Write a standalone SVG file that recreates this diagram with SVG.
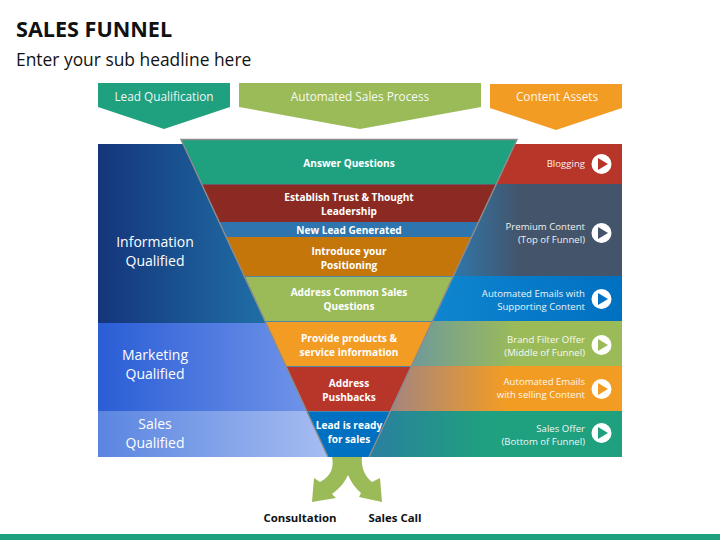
<svg xmlns="http://www.w3.org/2000/svg" width="720" height="540" viewBox="0 0 720 540">
<style>
text{font-family:"Open Sans","Noto Sans","Liberation Sans",sans-serif}
.h{font-size:11.8px;fill:#fff;text-anchor:middle;opacity:.92}
.b{font-size:10.1px;font-weight:700;fill:#fff;text-anchor:middle}
.q{font-size:14px;fill:#fff;text-anchor:middle}
.r{font-size:9.6px;fill:#fff;text-anchor:end;opacity:.92}
.k{font-size:11.4px;font-weight:700;fill:#111;text-anchor:middle}
.e{fill:none;stroke:#8c8c8c;stroke-width:1.4}
.c{fill:#fff}
</style>
<defs>
<linearGradient id="gi" x1="0" x2="1" y1="0" y2="0"><stop offset="0" stop-color="#15357b"/><stop offset="1" stop-color="#1f6fa6"/></linearGradient>
<linearGradient id="gm" x1="0" x2="1" y1="0" y2="0"><stop offset="0" stop-color="#2a5dd6"/><stop offset="1" stop-color="#6f93e8"/></linearGradient>
<linearGradient id="gs" x1="0" x2="1" y1="0" y2="0"><stop offset="0" stop-color="#5a85e0"/><stop offset="1" stop-color="#a6bdf1"/></linearGradient>
<linearGradient id="gp" x1="0" x2="1" y1="0" y2="0"><stop offset="0" stop-color="#2f77aa"/><stop offset=".4" stop-color="#44546a"/><stop offset="1" stop-color="#44546a"/></linearGradient>
<linearGradient id="ga" x1="0" x2="1" y1="0" y2="0"><stop offset="0" stop-color="#0f85cf"/><stop offset="1" stop-color="#0070c0"/></linearGradient>
<linearGradient id="gg" x1="0" x2="1" y1="0" y2="0"><stop offset="0" stop-color="#6f9a9a"/><stop offset=".5" stop-color="#9bbb59"/><stop offset="1" stop-color="#9bbb59"/></linearGradient>
<linearGradient id="go" x1="0" x2="1" y1="0" y2="0"><stop offset="0" stop-color="#a3857f"/><stop offset=".5" stop-color="#f39c24"/><stop offset="1" stop-color="#f39c24"/></linearGradient>
<linearGradient id="gt" x1="0" x2="1" y1="0" y2="0"><stop offset="0" stop-color="#2b7f9f"/><stop offset=".45" stop-color="#1fa07f"/><stop offset="1" stop-color="#1fa07f"/></linearGradient>
</defs>
<rect width="720" height="540" fill="#fff"/>
<g id="title">
<text x="16" y="37" style="font-size:21.6px;font-weight:700;fill:#111">SALES FUNNEL</text>
<text x="16" y="66" style="font-size:17.4px;fill:#111">Enter your sub headline here</text>
</g>
<rect id="bottom-bar" x="0" y="534" width="720" height="6" fill="#1fa07f"/>
<g id="header-lead"><polygon points="98,83 230,83 230,107 164,129 98,107" fill="#1fa07f"/><text class="h" x="164" y="101">Lead Qualification</text></g>
<g id="header-process"><polygon points="239,83 481,83 481,107 360,129 239,107" fill="#9bbb59"/><text class="h" x="360" y="101">Automated Sales Process</text></g>
<g id="header-content"><polygon points="490,84 622,84 622,108 556,130 490,108" fill="#f39c24"/><text class="h" x="557" y="101">Content Assets</text></g>
<g id="panel-information"><polygon points="98,144 183.5,144 266,323 98,323" fill="url(#gi)"/><text class="q"><tspan x="155" y="247">Information</tspan><tspan x="155" y="266">Qualified</tspan></text></g>
<g id="panel-marketing"><polygon points="98,323 266,323 306.7,411 98,411" fill="url(#gm)"/><text class="q"><tspan x="155" y="360">Marketing</tspan><tspan x="155" y="379">Qualified</tspan></text></g>
<g id="panel-sales"><polygon points="98,411 306.7,411 328,457 98,457" fill="url(#gs)"/><text class="q"><tspan x="155" y="429">Sales</tspan><tspan x="155" y="448">Qualified</tspan></text></g>
<g id="asset-blogging"><polygon points="514.7,144 622,144 622,184 496.3,184" fill="#b8352a"/><text class="r" x="585" y="167">Blogging</text><circle class="c" cx="601.5" cy="164" r="10"/><polygon points="598,158 608,164 598,170" fill="#b8352a"/></g>
<g id="asset-premium"><polygon points="496.3,184 622,184 622,276 453.4,276" fill="url(#gp)"/><text class="r"><tspan x="585" y="230">Premium Content</tspan><tspan x="585" y="243">(Top of Funnel)</tspan></text><circle class="c" cx="601.5" cy="233" r="10"/><polygon points="598,227 608,233 598,239" fill="#44546a"/></g>
<g id="asset-emails"><polygon points="453.4,276 622,276 622,321 432.4,321" fill="url(#ga)"/><text class="r"><tspan x="585" y="297">Automated Emails with</tspan><tspan x="585" y="310">Supporting Content</tspan></text><circle class="c" cx="601.5" cy="299" r="10"/><polygon points="598,293 608,299 598,305" fill="#0070c0"/></g>
<g id="asset-brand"><polygon points="432.4,321 622,321 622,366 411.4,366" fill="url(#gg)"/><text class="r"><tspan x="585" y="343">Brand Filter Offer</tspan><tspan x="585" y="356">(Middle of Funnel)</tspan></text><circle class="c" cx="601.5" cy="345" r="10"/><polygon points="598,339 608,345 598,351" fill="#9bbb59"/></g>
<g id="asset-selling"><polygon points="411.4,366 622,366 622,411 390.4,411" fill="url(#go)"/><text class="r"><tspan x="585" y="385">Automated Emails</tspan><tspan x="585" y="398">with selling Content</tspan></text><circle class="c" cx="601.5" cy="389" r="10"/><polygon points="598,383 608,389 598,395" fill="#f39c24"/></g>
<g id="asset-offer"><polygon points="390.4,411 622,411 622,457 369,457" fill="url(#gt)"/><text class="r"><tspan x="585" y="432">Sales Offer</tspan><tspan x="585" y="445">(Bottom of Funnel)</tspan></text><circle class="c" cx="601.5" cy="433" r="10"/><polygon points="598,427 608,433 598,439" fill="#1fa07f"/></g>
<g id="connectors">
<path d="M332,457 C334,466 332,476 320,482 L314,478 L312,502 L336,498 L332,494 C340,488 345,482 348,475 C351,482 355,488 361,493 L359,497 L382,502 L380,478 L372,482 C364,476 361,466 362,457 Z" fill="#9bbb59"/>
</g>
<polygon id="funnel-back" points="181,139.5 517,139.5 369,457 328,457" fill="#4f86ad"/>
<g id="funnel-answer"><polygon points="181,139.5 517,139.5 496.3,184 201.6,184" fill="#1fa07f"/><text class="b" x="349" y="167">Answer Questions</text></g>
<g id="funnel-trust"><polygon points="201.6,184.5 496.3,184.5 478.5,222 219.2,222" fill="#8b2a22"/><text class="b"><tspan x="349" y="201">Establish Trust &amp; Thought</tspan><tspan x="349" y="215">Leadership</tspan></text></g>
<g id="funnel-lead"><polygon points="219.2,222 478.5,222 471.5,237 226.2,237" fill="#2e75b0"/><text class="b" x="349" y="234">New Lead Generated</text></g>
<g id="funnel-position"><polygon points="226.2,237 471.5,237 453.4,276 244.2,276" fill="#c4760b"/><text class="b"><tspan x="349" y="255">Introduce your</tspan><tspan x="349" y="269">Positioning</tspan></text></g>
<g id="funnel-common"><polygon points="244.7,277 452.9,277 432.4,321 265,321" fill="#9bbb59"/><text class="b"><tspan x="349" y="296">Address Common Sales</tspan><tspan x="349" y="310">Questions</tspan></text></g>
<g id="funnel-provide"><polygon points="265.5,322 431.9,322 411.4,366 285.9,366" fill="#f39c24"/><text class="b"><tspan x="349" y="342">Provide products &amp;</tspan><tspan x="349" y="356">service information</tspan></text></g>
<g id="funnel-pushbacks"><polygon points="286.3,367 410.9,367 390.4,411 306.7,411" fill="#b8352a"/><text class="b"><tspan x="349" y="387">Address</tspan><tspan x="349" y="401">Pushbacks</tspan></text></g>
<g id="funnel-ready"><polygon points="307.2,412 389.9,412 369,457 328,457" fill="#0070c0"/><text class="b"><tspan x="349" y="429">Lead is ready</tspan><tspan x="349" y="443">for sales</tspan></text></g>
<path class="e" d="M328,457 L181,139.5 H517 L369,457"/>
<g id="label-consultation"><text class="k" x="300" y="522">Consultation</text></g>
<g id="label-salescall"><text class="k" x="395" y="522">Sales Call</text></g>
</svg>
